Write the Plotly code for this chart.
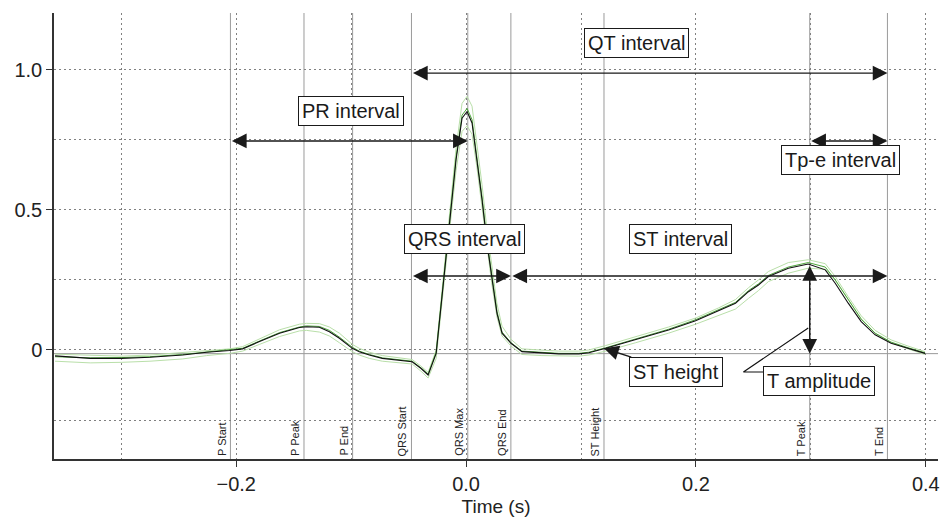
import plotly.graph_objects as go

# ---------------- data ----------------
time_s = [-0.3576, -0.327, -0.2995, -0.275, -0.2465, -0.2257, -0.2057, -0.1944, -0.1797, -0.1623,
          -0.145, -0.1389, -0.1276, -0.1189, -0.1102, -0.099, -0.0929, -0.0842, -0.0729, -0.0469,
          -0.0391, -0.033, -0.026, -0.0208, -0.0148, -0.0087, -0.0035, 0.0009, 0.0052, 0.0095,
          0.0139, 0.0182, 0.0226, 0.0269, 0.0313, 0.0391, 0.0486, 0.066, 0.0807, 0.0981,
          0.1068, 0.1215, 0.1476, 0.1762, 0.1997, 0.2196, 0.2344, 0.2457, 0.2544, 0.263,
          0.2804, 0.2977, 0.3125, 0.3212, 0.3325, 0.3438, 0.3559, 0.3698, 0.3845, 0.3993]

mean_beat = [-0.021, -0.030, -0.030, -0.026, -0.018, -0.008, -0.002, 0.004, 0.030, 0.060,
             0.080, 0.083, 0.081, 0.065, 0.042, 0.006, -0.006, -0.018, -0.030, -0.042,
             -0.066, -0.089, -0.012, 0.202, 0.440, 0.679, 0.827, 0.851, 0.810, 0.679,
             0.536, 0.381, 0.250, 0.131, 0.060, 0.024, -0.006, -0.010, -0.014, -0.014,
             -0.010, 0.006, 0.036, 0.071, 0.104, 0.139, 0.167, 0.208, 0.232, 0.262,
             0.292, 0.307, 0.286, 0.238, 0.167, 0.101, 0.054, 0.024, 0.006, -0.012]

beat_high = [-0.015, -0.020, -0.022, -0.018, -0.010, -0.002, 0.004, 0.012, 0.040, 0.072,
             0.092, 0.095, 0.094, 0.082, 0.060, 0.020, 0.006, -0.008, -0.020, -0.034,
             -0.058, -0.080, 0.000, 0.220, 0.470, 0.720, 0.880, 0.905, 0.870, 0.740,
             0.590, 0.430, 0.290, 0.165, 0.085, 0.038, 0.004, 0.000, -0.004, -0.004,
             0.000, 0.016, 0.048, 0.082, 0.114, 0.150, 0.180, 0.222, 0.250, 0.280,
             0.312, 0.322, 0.308, 0.262, 0.190, 0.122, 0.070, 0.036, 0.014, -0.006]

beat_low = [-0.040, -0.046, -0.044, -0.040, -0.032, -0.020, -0.012, -0.004, 0.020, 0.048,
            0.068, 0.070, 0.064, 0.050, 0.026, -0.006, -0.018, -0.030, -0.040, -0.050,
            -0.076, -0.100, -0.030, 0.180, 0.410, 0.640, 0.780, 0.800, 0.770, 0.650,
            0.510, 0.360, 0.230, 0.118, 0.050, 0.014, -0.016, -0.020, -0.022, -0.022,
            -0.018, -0.004, 0.026, 0.060, 0.092, 0.122, 0.146, 0.184, 0.212, 0.244,
            0.274, 0.292, 0.288, 0.250, 0.180, 0.112, 0.060, 0.026, 0.004, -0.016]

beat_mid = [-0.024, -0.028, -0.027, -0.024, -0.016, -0.008, 0.000, 0.006, 0.032, 0.062,
            0.082, 0.086, 0.084, 0.070, 0.046, 0.010, -0.004, -0.016, -0.028, -0.040,
            -0.064, -0.086, -0.008, 0.208, 0.448, 0.688, 0.838, 0.862, 0.822, 0.690,
            0.546, 0.390, 0.258, 0.138, 0.064, 0.026, -0.004, -0.008, -0.012, -0.012,
            -0.008, 0.008, 0.040, 0.074, 0.108, 0.142, 0.170, 0.212, 0.236, 0.266,
            0.296, 0.312, 0.296, 0.250, 0.178, 0.110, 0.060, 0.028, 0.008, -0.010]

event_names = ["P Start", "P Peak", "P End", "QRS Start", "QRS Max", "QRS End",
               "ST Height", "T Peak", "T End"]
event_times = [-0.205, -0.141, -0.0987, -0.0475, 0.0015, 0.039, 0.120, 0.299, 0.3666]
ev = dict(zip(event_names, event_times))

baseline = -0.013
st_height_value = 0.006
t_peak_value = 0.305

# interval arrows: (label, start event, end event, arrow y, label x, label y)
intervals = [
    ("QT interval", "QRS Start", "T End", 0.988, 0.1484, 1.096),
    ("PR interval", "P Start", "QRS Max", 0.746, -0.0998, 0.854),
    ("Tp-e interval", "T Peak", "T End", 0.746, 0.3255, 0.677),
    ("QRS interval", "QRS Start", "QRS End", 0.264, -0.0017, 0.396),
    ("ST interval", "QRS End", "T End", 0.264, 0.1866, 0.396),
]
st_label_pos = (0.183, -0.077)
tamp_label_pos = (0.307, -0.110)
tamp_leader_t = [0.2977, 0.2413, 0.2587]
tamp_leader_v = [0.0786, -0.0786, -0.0786]

x_range = [-0.3585, 0.4106]
y_range = [-0.389, 1.2025]

# ---------------- figure ----------------
fig = go.Figure()
light_green = "#b9dfa9"
for series in (beat_high, beat_low):
    fig.add_trace(go.Scatter(x=time_s, y=series, mode="lines",
                             line=dict(color=light_green, width=1), hoverinfo="skip"))
fig.add_trace(go.Scatter(x=time_s, y=beat_mid, mode="lines",
                         line=dict(color="#4fa83d", width=1), hoverinfo="skip"))
fig.add_trace(go.Scatter(x=time_s, y=mean_beat, mode="lines",
                         line=dict(color="#111111", width=1.1), hoverinfo="skip"))
fig.add_trace(go.Scatter(x=tamp_leader_t, y=tamp_leader_v, mode="lines",
                         line=dict(color="#111111", width=1.2), hoverinfo="skip"))

shapes = []
for t in event_times:
    shapes.append(dict(type="line", xref="x", yref="paper", x0=t, x1=t, y0=0, y1=1,
                       line=dict(color="#9a9a9a", width=1), layer="below"))
shapes.append(dict(type="line", xref="paper", yref="y", x0=0, x1=1, y0=baseline, y1=baseline,
                   line=dict(color="#9a9a9a", width=1), layer="below"))

annotations = []
FONT = "Liberation Sans, Arial, sans-serif"
arrow_style = dict(showarrow=True, arrowhead=2, startarrowhead=2, arrowside="end+start",
                   arrowsize=2.1, startarrowsize=2.1, arrowwidth=1.4, arrowcolor="#1a1a1a",
                   axref="x", ayref="y", xref="x", yref="y", text="")
box_style = dict(showarrow=False, bgcolor="white", bordercolor="#1a1a1a", borderwidth=1,
                 borderpad=3, font=dict(family=FONT, size=20, color="#1a1a1a"),
                 xref="x", yref="y")

for label, a, b, ya, lx, ly in intervals:
    annotations.append(dict(x=ev[b], y=ya, ax=ev[a], ay=ya, **arrow_style))
    annotations.append(dict(x=lx, y=ly, text=label, **box_style))

# T amplitude vertical arrow
annotations.append(dict(x=ev["T Peak"], y=baseline, ax=ev["T Peak"], ay=t_peak_value, **arrow_style))
annotations.append(dict(x=tamp_label_pos[0], y=tamp_label_pos[1], text="T amplitude", **box_style))

# ST height label with arrow
st_box = dict(box_style)
st_box.update(showarrow=True, arrowhead=2, arrowsize=2.1, arrowwidth=1.4, arrowcolor="#1a1a1a",
              axref="x", ayref="y")
annotations.append(dict(x=ev["ST Height"], y=st_height_value, ax=st_label_pos[0], ay=st_label_pos[1],
                        text="ST height", **st_box))

# event labels at bottom
for name, t in zip(event_names, event_times):
    annotations.append(dict(x=t, y=0, xref="x", yref="paper", text=name, textangle=-90,
                            showarrow=False, xanchor="right", yanchor="bottom", xshift=-1, yshift=1,
                            font=dict(family=FONT, size=11, color="#222")))

grid_dash = "2px,3px"
fig.update_layout(
    width=941, height=522,
    margin=dict(l=54, r=1, t=13, b=63),
    paper_bgcolor="white", plot_bgcolor="white",
    showlegend=False,
    font=dict(family=FONT, size=19, color="#222"),
    shapes=shapes, annotations=annotations,
    xaxis=dict(range=x_range, tickmode="linear", tick0=0, dtick=0.2, tickformat=".1f",
               ticklabeloverflow="allow",
               showgrid=True, gridcolor="#808080", griddash=grid_dash, gridwidth=1,
               minor=dict(tickmode="linear", tick0=0, dtick=0.1, showgrid=True,
                          gridcolor="#808080", griddash=grid_dash, gridwidth=1),
               showline=True, linecolor="#333", linewidth=1.5, ticks="outside", ticklen=6,
               tickcolor="#333", zeroline=False,
               title=dict(text="Time (s)", font=dict(size=19), standoff=6),
               tickfont=dict(size=20)),
    yaxis=dict(range=y_range, tickmode="array", tickvals=[0, 0.5, 1.0], ticktext=["0", "0.5", "1.0"],
               showgrid=True, gridcolor="#808080", griddash=grid_dash, gridwidth=1,
               minor=dict(tickmode="linear", tick0=0, dtick=0.25, showgrid=True,
                          gridcolor="#808080", griddash=grid_dash, gridwidth=1),
               showline=True, linecolor="#333", linewidth=1.5, ticks="outside", ticklen=6,
               tickcolor="#333", zeroline=False, tickfont=dict(size=20)),
)

fig.write_html("out.html")
